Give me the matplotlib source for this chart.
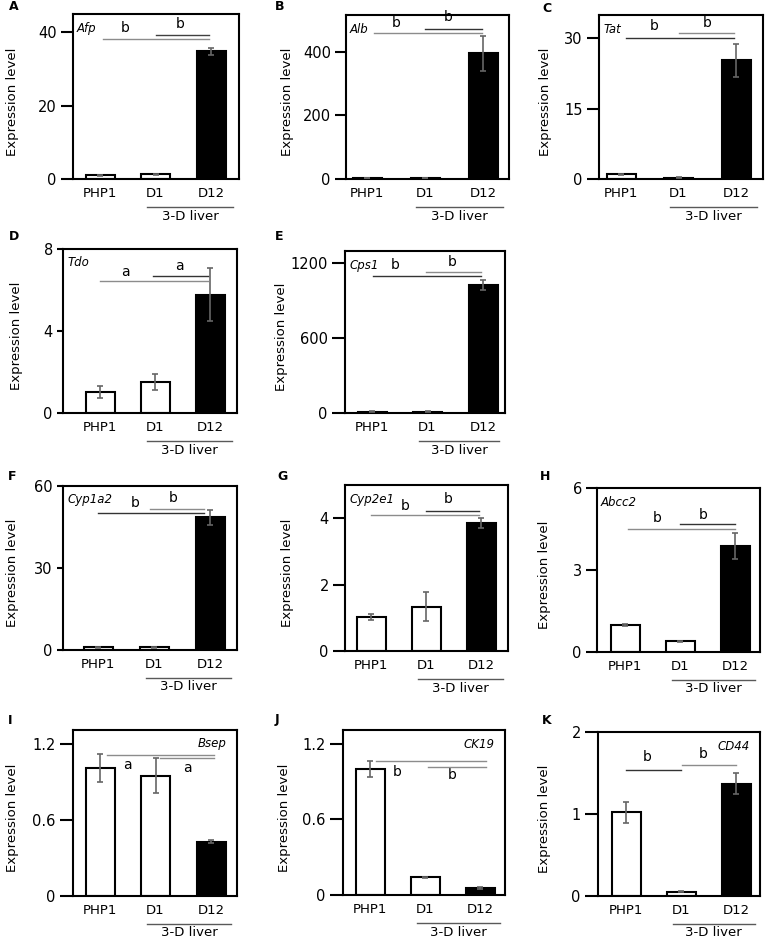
import numpy as np
import matplotlib.pyplot as plt

W, H = 771, 942

groups = ["PHP1", "D1", "D12"]
genes = ["Afp", "Alb", "Tat", "Tdo", "Cps1", "Cyp1a2", "Cyp2e1", "Abcc2", "Bsep", "CK19", "CD44"]
panel_letters = ["A", "B", "C", "D", "E", "F", "G", "H", "I", "J", "K"]

# mean expression (PHP1, D1, D12) and error
afp = [1.0, 1.3, 34.8]
afp_err = [0.1, 0.15, 1.0]
alb = [3.0, 3.0, 395.0]
alb_err = [1.0, 1.0, 55.0]
tat = [1.0, 0.3, 25.3]
tat_err = [0.05, 0.05, 3.6]
tdo = [1.03, 1.52, 5.78]
tdo_err = [0.3, 0.39, 1.3]
cps1 = [10.0, 10.0, 1030.0]
cps1_err = [3.0, 3.0, 40.0]
cyp1a2 = [1.0, 1.0, 48.5]
cyp1a2_err = [0.2, 0.2, 2.7]
cyp2e1 = [1.03, 1.33, 3.86]
cyp2e1_err = [0.09, 0.44, 0.15]
abcc2 = [0.99, 0.4, 3.88]
abcc2_err = [0.03, 0.02, 0.48]
bsep = [1.01, 0.95, 0.43]
bsep_err = [0.11, 0.14, 0.01]
ck19 = [1.0, 0.14, 0.055]
ck19_err = [0.06, 0.005, 0.005]
cd44 = [1.02, 0.05, 1.37]
cd44_err = [0.13, 0.005, 0.13]

means = [afp, alb, tat, tdo, cps1, cyp1a2, cyp2e1, abcc2, bsep, ck19, cd44]
errs = [afp_err, alb_err, tat_err, tdo_err, cps1_err, cyp1a2_err, cyp2e1_err,
        abcc2_err, bsep_err, ck19_err, cd44_err]

y_top = [45, 515, 35, 8, 1300, 60, 5, 6, 1.31, 1.31, 2]
y_ticks = [[0, 20, 40], [0, 200, 400], [0, 15, 30], [0, 4, 8], [0, 600, 1200],
           [0, 30, 60], [0, 2, 4], [0, 3, 6], [0, 0.6, 1.2], [0, 0.6, 1.2], [0, 1, 2]]
sig_letter = ["b", "b", "b", "a", "b", "b", "b", "b", "a", "b", "b"]

# significance lines: (x0, x1, y) for the two comparisons
sig_line1 = [(0.05, 1.96, 38.1), (0.12, 1.98, 460), (0.08, 1.96, 30.0), (0.0, 1.96, 6.42),
             (0.02, 1.96, 1096), (0.0, 1.9, 50.1), (0.0, 1.96, 4.09), (0.05, 2.0, 4.5),
             (0.13, 2.05, 1.11), (0.1, 2.1, 1.06), (0.0, 1.0, 1.54)]
sig_line2 = [(1.0, 1.96, 39.2), (1.0, 1.98, 472), (1.0, 1.96, 31.1), (0.96, 1.96, 6.66),
             (0.97, 1.96, 1128), (0.93, 1.9, 51.6), (1.0, 1.96, 4.21), (1.0, 2.0, 4.68),
             (1.08, 2.05, 1.09), (1.05, 2.1, 1.02), (1.02, 2.0, 1.6)]
sig_text1 = [(0.45, 41.2), (0.5, 491), (0.58, 32.6), (0.47, 6.9), (0.41, 1184), (0.66, 53.8),
             (0.62, 4.36), (0.58, 4.9), (0.5, 1.03), (0.5, 0.98), (0.38, 1.69)]
sig_text2 = [(1.44, 42.3), (1.4, 510), (1.5, 33.2), (1.45, 7.15), (1.44, 1208), (1.34, 55.6),
             (1.4, 4.57), (1.42, 5.0), (1.57, 1.01), (1.5, 0.95), (1.4, 1.73)]
sig_col1 = ["0.55", "0.55", "0.2", "0.55", "0.2", "0.2", "0.55", "0.55", "0.55", "0.55", "0.2"]
sig_col2 = ["0.25", "0.2", "0.55", "0.2", "0.55", "0.55", "0.2", "0.2", "0.55", "0.55", "0.55"]

# layout in pixels: axes (left, top, right, bottom)
rects = [(73, 14, 239, 179), (346, 15, 509, 179), (599, 15, 763, 179),
         (63, 249, 237, 413), (345, 251, 505, 413),
         (63, 486, 237, 650), (345, 485, 508, 651), (597, 488, 760, 652),
         (73, 730, 237, 896), (343, 730, 505, 895), (598, 732, 760, 896)]
x_off = [(27, 55.5), (21, 58), (22, 57.5), (37, 55), (27, 55.5), (35, 56), (26, 55),
         (28, 55), (27, 55.5), (27, 55), (28, 55)]
tick_len = [12, 11, 12, 6, 13, 6, 12, 11, 13, 13, 13]
ylab_x = [19, 294, 552, 23, 288, 19, 294, 551, 19, 291, 551]
letter_pos = [(9, 7), (275, 7), (542, 8), (9, 237), (275, 237), (8, 477), (277, 477),
              (540, 477), (8, 720), (275, 720), (542, 720)]

plt.rcParams['font.family'] = ['DejaVu Sans']
fig = plt.figure(figsize=(W / 100, H / 100), dpi=100)

for i in range(11):
    l, t, r, b = rects[i]
    w, h = r - l, b - t
    ax = fig.add_axes([l / W, 1 - b / H, w / W, h / H])
    off, ppu = x_off[i]
    x = np.arange(3)
    ax.bar(x, means[i], width=29 / ppu, color=["white", "white", "black"],
           edgecolor="black", linewidth=1.5, zorder=2)
    ax.errorbar(x, means[i], yerr=errs[i], fmt="none", ecolor="0.4", elinewidth=1.2,
                capsize=2.5, capthick=1.2, zorder=3)
    ax.set_xlim(-off / ppu, (w - off) / ppu)
    ax.set_ylim(0, y_top[i])
    ax.set_yticks(y_ticks[i])
    ax.set_yticklabels(["%g" % v for v in y_ticks[i]])
    ax.set_xticks(x)
    ax.set_xticklabels(groups)
    ax.tick_params(axis="x", length=0, pad=6, labelsize=9.5)
    ax.tick_params(axis="y", length=tick_len[i] * 0.72, width=1.5, labelsize=10.5, pad=3)
    for sp in ax.spines.values():
        sp.set_linewidth(1.5)
    ax.set_ylabel("Expression level", fontsize=9.5)
    ax.yaxis.set_label_coords(-(l - ylab_x[i]) / w, 0.47)

    # significance bars
    for (x0, x1, yy), c in ((sig_line1[i], sig_col1[i]), (sig_line2[i], sig_col2[i])):
        ax.plot([x0, x1], [yy, yy], color=c, lw=1.0, zorder=4, clip_on=False)
    for tx, ty in (sig_text1[i], sig_text2[i]):
        ax.text(tx, ty, sig_letter[i], ha="center", va="center", fontsize=10)

    # gene name
    if i < 8:
        ax.text(4 / w, 1 - 14 / h, genes[i], transform=ax.transAxes, ha="left",
                va="center", fontsize=8.5, style="italic")
    else:
        ax.text(1 - 10 / w, 1 - 14 / h, genes[i], transform=ax.transAxes, ha="right",
                va="center", fontsize=8.5, style="italic")

    # 3-D liver bracket
    xr = (w - off) / ppu
    trans = ax.get_xaxis_transform()
    ax.plot([0.85, xr - 0.1], [-28 / h, -28 / h], color="0.35", lw=1.0,
            transform=trans, clip_on=False)
    ax.text((0.85 + xr - 0.1) / 2, -37 / h, "3-D liver", transform=trans,
            ha="center", va="center", fontsize=9.5)

    fig.text(letter_pos[i][0] / W, 1 - letter_pos[i][1] / H, panel_letters[i],
             ha="left", va="center", fontsize=9, fontweight="bold")

fig.savefig("out.png", dpi=100)
